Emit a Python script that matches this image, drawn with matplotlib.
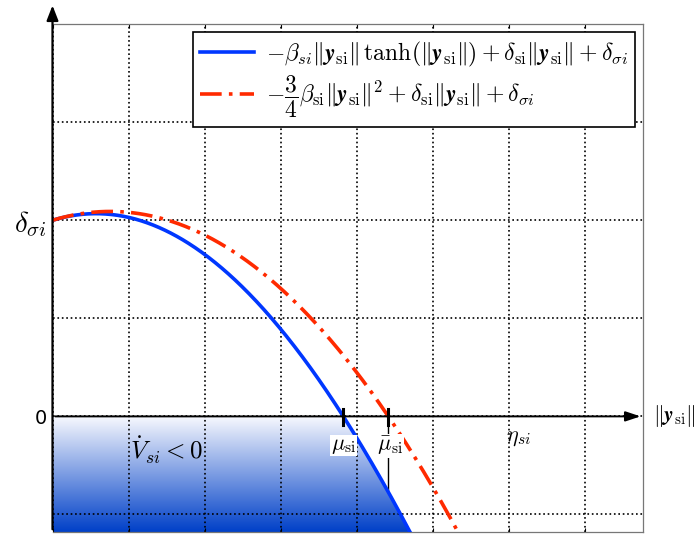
import numpy as np
import matplotlib.pyplot as plt
from matplotlib.colors import LinearSegmentedColormap

plt.rcParams['mathtext.fontset'] = 'cm'

# parametres des deux fonctions
beta = 20.9
delta = 2.38
delta_sigma = 2.0
grid_step = 0.1
x_max = 0.776
y_min, y_max = -1.18, 4.0

xs = np.linspace(0, x_max, 800)
blue = -beta * xs * np.tanh(xs) + delta * xs + delta_sigma
red = -0.75 * beta * xs**2 + delta * xs + delta_sigma

# racines (mu et mu barre)
mu = np.interp(0, blue[::-1], xs[::-1])
mu_bar = np.interp(0, red[::-1], xs[::-1])

fig, ax = plt.subplots(figsize=(7.0, 5.38), dpi=100)
fig.subplots_adjust(left=0.075, right=0.919, top=0.955, bottom=0.011)

# remplissage en degrade sous l'axe
upper = np.clip(blue, y_min, 0)
poly = ax.fill_between(xs, y_min, upper, color='none', lw=0)
cmap = LinearSegmentedColormap.from_list('grad', ['#f8f9fe', '#0040c8'])
grad = np.linspace(0, 1, 256).reshape(-1, 1)
im = ax.imshow(grad, cmap=cmap, aspect='auto', extent=[0, x_max, y_min, 0],
               origin='upper', zorder=1)
im.set_clip_path(poly.get_paths()[0], transform=ax.transData)

ax.plot(xs, blue, color='#0037ff', lw=2.6, zorder=4,
        label=r'$-\beta_{si}\|\boldsymbol{y}_{\mathrm{si}}\|\,\tanh(\|\boldsymbol{y}_{\mathrm{si}}\|)+\delta_{\mathrm{si}}\|\boldsymbol{y}_{\mathrm{si}}\|+\delta_{\sigma i}$')
ax.plot(xs, red, color='#ff2a00', lw=2.6, ls=(0, (6, 2, 1, 2)), zorder=4,
        label=r'$-\dfrac{3}{4}\beta_{\mathrm{si}}\|\boldsymbol{y}_{\mathrm{si}}\|^2+\delta_{\mathrm{si}}\|\boldsymbol{y}_{\mathrm{si}}\|+\delta_{\sigma i}$')

ax.set_xlim(0, x_max)
ax.set_ylim(y_min, y_max)
ax.set_xticks(np.arange(0, x_max, grid_step))
ax.set_yticks([-1, 0, 1, 2, 3, 4])
ax.set_yticklabels(['', '0', '', r'$\delta_{\sigma i}$', '', ''])
ax.set_xticklabels([])
ax.tick_params(axis='x', length=3, direction='in', top=True, bottom=True)
ax.tick_params(axis='y', length=0, labelsize=14, pad=4)
ax.get_yticklabels()[3].set_fontsize(21)
ax.grid(True, color='black', ls=':', lw=1.2, zorder=2)
for side in ['top', 'right', 'bottom']:
    ax.spines[side].set_color('#777777')
    ax.spines[side].set_linewidth(0.9)
ax.spines['left'].set_visible(False)

# axes avec fleches
ax.annotate('', xy=(0, 4.22), xytext=(0, y_min), annotation_clip=False,
            arrowprops=dict(arrowstyle='-|>,head_length=0.9,head_width=0.35', color='black', lw=1.6), zorder=6)
ax.annotate('', xy=(x_max, 0), xytext=(0, 0), annotation_clip=False,
            arrowprops=dict(arrowstyle='-|>,head_length=0.9,head_width=0.3', color='black', lw=1.4), zorder=6)
ax.text(0.789, 0, r'$\|\boldsymbol{y}_{\mathrm{si}}\|$', fontsize=15.5, va='center', ha='left', clip_on=False)

# marques mu et mu barre
for m in [mu, mu_bar]:
    ax.plot([m, m], [-0.09, 0.08], color='black', lw=2.2, zorder=6)
ax.plot([mu_bar, mu_bar], [0, np.interp(mu_bar, xs, blue)], color='black', lw=1.0, zorder=3)
ax.text(mu, -0.3, r'$\mu_{\mathrm{si}}$', fontsize=16, ha='center', va='center', zorder=5,
        bbox=dict(facecolor='white', edgecolor='none', pad=0.5))
ax.text(mu_bar + 0.003, -0.3, r'$\bar{\mu}_{\mathrm{si}}$', fontsize=16, ha='center', va='center', zorder=5,
        bbox=dict(facecolor='white', edgecolor='none', pad=0.5))
ax.text(0.612, -0.22, r'$\eta_{si}$', fontsize=16, ha='center', va='center', zorder=5)
ax.text(0.15, -0.35, r'$\dot{V}_{si}<0$', fontsize=18, ha='center', va='center', zorder=5)

leg = ax.legend(loc='upper right', fontsize=17, frameon=True, fancybox=False,
                edgecolor='black', framealpha=1, borderaxespad=0.35, handlelength=2.3,
                borderpad=0.3, labelspacing=0.2, handletextpad=0.5)
leg.get_frame().set_linewidth(1.2)

plt.savefig('out.png', dpi=100)
